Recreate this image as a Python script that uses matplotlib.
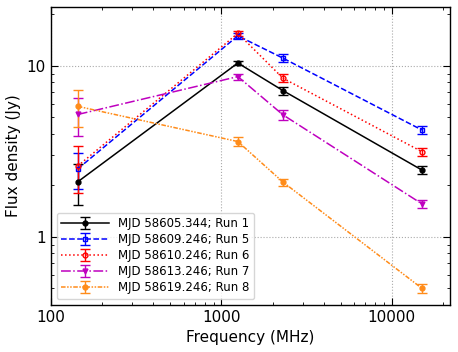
import matplotlib
matplotlib.use("Agg")
import matplotlib.pyplot as plt
from matplotlib.ticker import FixedLocator, FixedFormatter, LogLocator, NullFormatter

freq = [144, 1250, 2300, 15000]

labels = ["MJD 58605.344; Run 1", "MJD 58609.246; Run 5", "MJD 58610.246; Run 6",
          "MJD 58613.246; Run 7", "MJD 58619.246; Run 8"]
run1 = [2.10, 10.4, 7.17, 2.46]
run1_err = [0.57, 0.30, 0.40, 0.12]
run5 = [2.50, 15.0, 11.1, 4.22]
run5_err = [0.60, 0.60, 0.60, 0.22]
run6 = [2.60, 15.5, 8.47, 3.15]
run6_err = [0.80, 0.60, 0.45, 0.16]
run7 = [5.20, 8.66, 5.17, 1.56]
run7_err = [1.30, 0.35, 0.35, 0.08]
run8 = [5.80, 3.61, 2.09, 0.50]
run8_err = [1.40, 0.22, 0.10, 0.03]

series = [run1, run5, run6, run7, run8]
errs = [run1_err, run5_err, run6_err, run7_err, run8_err]
colors = ["black", "blue", "red", "m", "#ff8c1a"]
styles = ["-", "--", ":", "-.", (0, (3, 1, 1, 1, 1, 1))]
markers = ["o", "s", "o", "v", "o"]
mfcs = ["black", "none", "none", "m", "#ff8c1a"]

fig = plt.figure(figsize=(4.58, 3.52), dpi=100)
ax = fig.add_axes([0.111, 0.134, 0.872, 0.845])

for y, e, c, ls, mk, mf, lab in zip(series, errs, colors, styles, markers, mfcs, labels):
    ax.errorbar(freq, y, yerr=e, color=c, ls=ls, lw=1.1, marker=mk, ms=3.5,
                mfc=mf, mec=c, capsize=3.5, capthick=1.0, elinewidth=1.0, label=lab)

ax.set_xscale("log")
ax.set_yscale("log")
ax.set_xlim(100, 22000)
ax.set_ylim(0.4, 22)

ax.xaxis.set_major_locator(FixedLocator([100, 1000, 10000]))
ax.xaxis.set_major_formatter(FixedFormatter(["100", "1000", "10000"]))
ax.xaxis.set_minor_locator(LogLocator(base=10, subs=range(2, 10)))
ax.xaxis.set_minor_formatter(NullFormatter())
ax.yaxis.set_major_locator(FixedLocator([1, 10]))
ax.yaxis.set_major_formatter(FixedFormatter(["1", "10"]))
ax.yaxis.set_minor_locator(LogLocator(base=10, subs=range(2, 10)))
ax.yaxis.set_minor_formatter(NullFormatter())

ax.tick_params(which="both", direction="in", top=True, right=True, labelsize=11)
ax.tick_params(which="major", length=5)
ax.tick_params(which="minor", length=2.5)
ax.grid(True, which="major", ls=":", color="#aaaaaa", lw=0.8)

for s in ax.spines.values():
    s.set_linewidth(1.0)

ax.set_xlabel("Frequency (MHz)", fontsize=11)
ax.set_ylabel("Flux density (Jy)", fontsize=11)
ax.legend(loc="lower left", fontsize=8.5, handlelength=4.0, labelspacing=0.25,
          borderpad=0.4, framealpha=0.8)

fig.savefig("out.png", dpi=100)
